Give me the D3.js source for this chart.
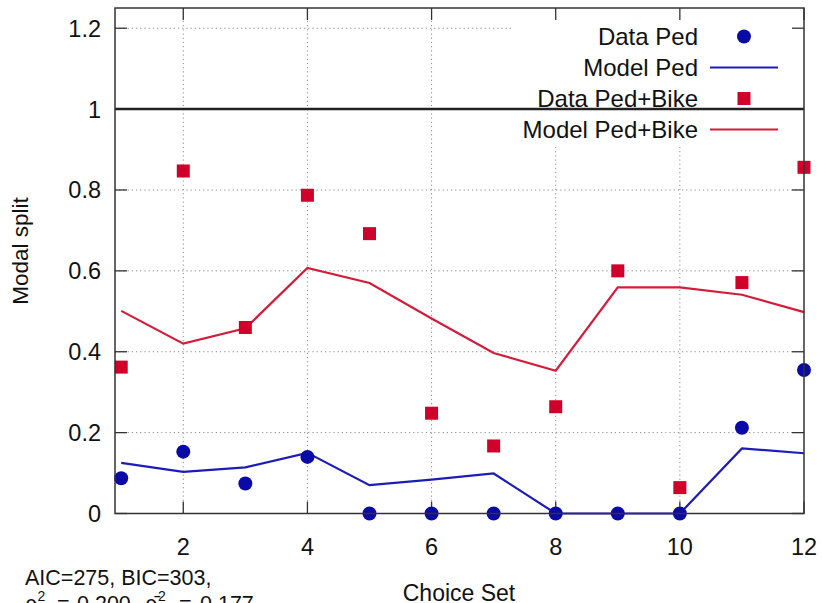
<!DOCTYPE html>
<html>
  <head>
    <meta charset="utf-8" />
    <title>Modal split</title>
    <script src="https://d3js.org/d3.v7.min.js"></script>
    <style>
      body {
        margin: 0;
        background: white;
      }
      text {
        font-family: "Liberation Sans", Arial, sans-serif;
        fill: #111;
      }
    </style>
  </head>
  <body>

    <svg id="chart"></svg>

    <script>

      var choiceSets = [1, 2, 3, 4, 5, 6, 7, 8, 9, 10, 11, 12];
      var dataPed = [0.087, 0.153, 0.074, 0.140, 0, 0, 0, 0, 0, 0, 0.212, 0.355];
      var modelPed = [0.125, 0.103, 0.114, 0.150, 0.070, 0.084, 0.099, 0, 0, 0, 0.161, 0.149];
      var dataPedBike = [0.362, 0.847, 0.460, 0.787, 0.692, 0.248, 0.167, 0.264, 0.600, 0.064, 0.571, 0.856];
      var modelPedBike = [0.501, 0.420, 0.458, 0.607, 0.570, 0.482, 0.397, 0.353, 0.559, 0.559, 0.541, 0.498];
      var xTicks = [2, 4, 6, 8, 10, 12];
      var yTicks = [0, 0.2, 0.4, 0.6, 0.8, 1, 1.2];
      var refLine = 1;

      var width = 822;
      var height = 603;
      var margin = { top: 8, right: 18, bottom: 89.5, left: 115 };

      var blue = "#0a0aa6";
      var blueLine = "#1c1cb8";
      var red = "#cf0029";
      var redLine = "#d41c3a";

      var svg = d3.select("#chart")
        .attr("width", width)
        .attr("height", height);

      var x = d3.scaleLinear()
        .domain([0.9, 12])
        .range([margin.left, width - margin.right]);

      var y = d3.scaleLinear()
        .domain([0, 1.25])
        .range([height - margin.bottom, margin.top]);

      var x0 = x.range()[0], x1 = x.range()[1];
      var y0 = y.range()[0], y1 = y.range()[1];

      var rows = choiceSets.map(function(c, i) {
        return { c: c, dp: dataPed[i], mp: modelPed[i], db: dataPedBike[i], mb: modelPedBike[i] };
      });

      // grid
      var grid = svg.append("g")
        .attr("stroke", "#8a8a8a")
        .attr("stroke-width", 1)
        .attr("stroke-dasharray", "1.2,3");

      grid.selectAll(".gx")
        .data(xTicks.filter(function(d) { return d < 12; }))
        .enter().append("line")
        .attr("x1", function(d) { return x(d); })
        .attr("x2", function(d) { return x(d); })
        .attr("y1", y0)
        .attr("y2", y1);

      grid.selectAll(".gy")
        .data(yTicks.filter(function(d) { return d > 0; }))
        .enter().append("line")
        .attr("x1", x0)
        .attr("x2", x1)
        .attr("y1", function(d) { return y(d); })
        .attr("y2", function(d) { return y(d); });

      // legend background covers the grid
      var legend = { x: 511, y: y1, w: x1 - 511, h: 138 };
      svg.append("rect")
        .attr("x", legend.x)
        .attr("y", legend.y)
        .attr("width", legend.w)
        .attr("height", legend.h)
        .attr("fill", "white");

      // axes (ticks inward, mirrored)
      var tickLen = 12;
      var axisG = svg.append("g").attr("stroke", "#333").attr("stroke-width", 1.3);

      axisG.selectAll(".tb")
        .data(xTicks)
        .enter().append("line")
        .attr("x1", function(d) { return x(d); })
        .attr("x2", function(d) { return x(d); })
        .attr("y1", y0)
        .attr("y2", y0 - tickLen);

      axisG.selectAll(".tt")
        .data(xTicks)
        .enter().append("line")
        .attr("x1", function(d) { return x(d); })
        .attr("x2", function(d) { return x(d); })
        .attr("y1", y1)
        .attr("y2", y1 + tickLen);

      axisG.selectAll(".tl")
        .data(yTicks)
        .enter().append("line")
        .attr("x1", x0)
        .attr("x2", x0 + tickLen)
        .attr("y1", function(d) { return y(d); })
        .attr("y2", function(d) { return y(d); });

      axisG.selectAll(".tr")
        .data(yTicks)
        .enter().append("line")
        .attr("x1", x1)
        .attr("x2", x1 - tickLen)
        .attr("y1", function(d) { return y(d); })
        .attr("y2", function(d) { return y(d); });

      // reference line at 1
      svg.append("line")
        .attr("x1", x0)
        .attr("x2", x1)
        .attr("y1", y(refLine))
        .attr("y2", y(refLine))
        .attr("stroke", "#222")
        .attr("stroke-width", 2.5);

      // tick labels
      svg.append("g").selectAll("text")
        .data(yTicks)
        .enter().append("text")
        .attr("x", 101)
        .attr("y", function(d) { return y(d); })
        .attr("dy", "0.36em")
        .attr("text-anchor", "end")
        .style("font-size", "23.5px")
        .text(function(d) { return d3.format("~g")(d); });

      svg.append("g").selectAll("text")
        .data(xTicks)
        .enter().append("text")
        .attr("x", function(d) { return x(d); })
        .attr("y", 555)
        .attr("text-anchor", "middle")
        .style("font-size", "23.5px")
        .text(function(d) { return d; });

      svg.append("text")
        .attr("transform", "translate(28,251) rotate(-90)")
        .attr("text-anchor", "middle")
        .style("font-size", "22.5px")
        .text("Modal split");

      svg.append("text")
        .attr("x", 459)
        .attr("y", 601)
        .attr("text-anchor", "middle")
        .style("font-size", "23px")
        .text("Choice Set");

      // model lines
      var lineMp = d3.line()
        .x(function(d) { return x(d.c); })
        .y(function(d) { return y(d.mp); });
      var lineMb = d3.line()
        .x(function(d) { return x(d.c); })
        .y(function(d) { return y(d.mb); });

      svg.append("path")
        .datum(rows)
        .attr("d", lineMp)
        .attr("fill", "none")
        .attr("stroke", blueLine)
        .attr("stroke-width", 2.2);

      svg.append("path")
        .datum(rows)
        .attr("d", lineMb)
        .attr("fill", "none")
        .attr("stroke", redLine)
        .attr("stroke-width", 2.2);

      // data points
      svg.append("g").selectAll("circle")
        .data(rows)
        .enter().append("circle")
        .attr("cx", function(d) { return x(d.c); })
        .attr("cy", function(d) { return y(d.dp); })
        .attr("r", 7)
        .attr("fill", blue);

      var sq = 13;
      svg.append("g").selectAll("rect")
        .data(rows)
        .enter().append("rect")
        .attr("x", function(d) { return x(d.c) - sq / 2; })
        .attr("y", function(d) { return y(d.db) - sq / 2; })
        .attr("width", sq)
        .attr("height", sq)
        .attr("fill", red);

      // border
      svg.append("rect")
        .attr("x", x0)
        .attr("y", y1)
        .attr("width", x1 - x0)
        .attr("height", y0 - y1)
        .attr("fill", "none")
        .attr("stroke", "#333")
        .attr("stroke-width", 1.5);

      // legend
      var entries = [
        { label: "Data Ped", type: "circle", color: blue },
        { label: "Model Ped", type: "line", color: blueLine },
        { label: "Data Ped+Bike", type: "square", color: red },
        { label: "Model Ped+Bike", type: "line", color: redLine }
      ];

      var leg = svg.append("g").selectAll("g")
        .data(entries)
        .enter().append("g")
        .attr("transform", function(d, i) { return "translate(0," + (36.5 + i * 31) + ")"; });

      leg.append("text")
        .attr("x", 698)
        .attr("dy", "0.36em")
        .attr("text-anchor", "end")
        .style("font-size", "24px")
        .text(function(d) { return d.label; });

      leg.each(function(d) {
        var g = d3.select(this);
        if (d.type === "circle") {
          g.append("circle").attr("cx", 744).attr("cy", 0).attr("r", 7).attr("fill", d.color);
        } else if (d.type === "square") {
          g.append("rect").attr("x", 744 - sq / 2).attr("y", -sq / 2)
            .attr("width", sq).attr("height", sq).attr("fill", d.color);
        } else {
          g.append("line").attr("x1", 710).attr("x2", 778)
            .attr("stroke", d.color).attr("stroke-width", 2.2);
        }
      });

      // fit statistics
      var stats = svg.append("g")
        .style("font-size", "21.5px");

      stats.append("text")
        .attr("x", 25)
        .attr("y", 585)
        .text("AIC=275, BIC=303,");

      var s2 = stats.append("text")
        .attr("y", 611);
      var parts = [
        { t: "ρ", x: 25, sup: false },
        { t: "2", x: 37.5, sup: true },
        { t: "=", x: 57, sup: false },
        { t: "0.200,", x: 77, sup: false },
        { t: "ρ̄", x: 145, sup: false },
        { t: "2", x: 158, sup: true },
        { t: "=", x: 179, sup: false },
        { t: "0.177", x: 200, sup: false }
      ];
      parts.forEach(function(p) {
        s2.append("tspan")
          .attr("x", p.x)
          .attr("y", p.sup ? 601 : 611)
          .style("font-size", p.sup ? "14px" : null)
          .text(p.t);
      });

    </script>
  </body>
</html>
